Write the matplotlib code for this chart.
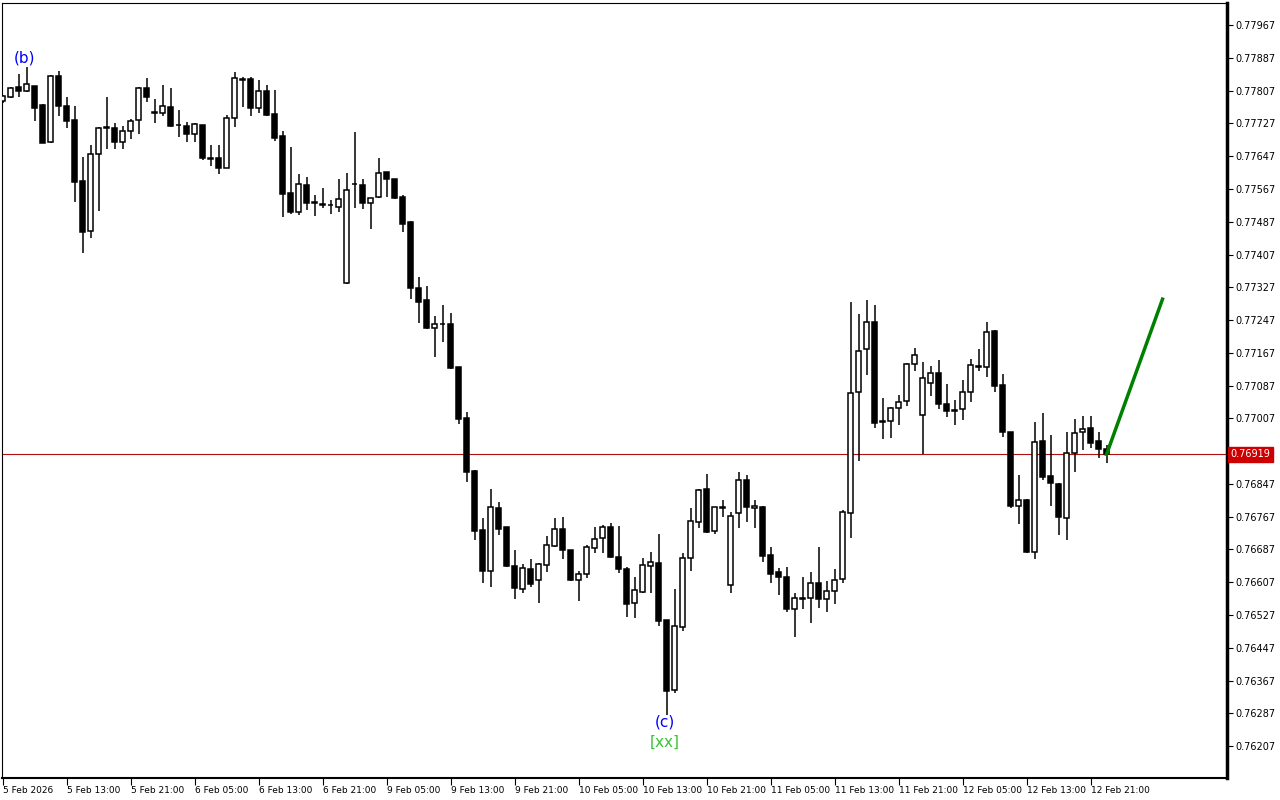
import numpy as np
import matplotlib
matplotlib.use("Agg")
import matplotlib.pyplot as plt
import matplotlib.transforms as mtransforms

# hourly candles, prices in points (1e-5)
opens = [77781, 77791, 77816, 77806, 77818, 77772, 77681, 77842, 77769, 77735,
         77586, 77464, 77652, 77718, 77716, 77681, 77708, 77735, 77813, 77755,
         77752, 77767, 77723, 77720, 77701, 77723, 77642, 77642, 77618, 77740,
         77835, 77835, 77764, 77806, 77750, 77696, 77557, 77510, 77576, 77535,
         77531, 77529, 77523, 77337, 77579, 77576, 77532, 77547, 77608, 77591,
         77547, 77486, 77325, 77296, 77227, 77238, 77237, 77132, 77008, 76878,
         76734, 76634, 76788, 76742, 76646, 76590, 76639, 76612, 76649, 76695,
         76737, 76685, 76612, 76627, 76690, 76715, 76742, 76668, 76639, 76556,
         76583, 76646, 76654, 76515, 76344, 76498, 76666, 76754, 76834, 76732,
         76790, 76600, 76776, 76856, 76788, 76790, 76673, 76632, 76620, 76541,
         76568, 76568, 76605, 76566, 76585, 76615, 76776, 77071, 77176, 77242,
         77000, 77000, 77032, 77049, 77140, 77015, 77093, 77118, 77042, 77027,
         77030, 77071, 77135, 77132, 77220, 77088, 76973, 76793, 76808, 76681,
         76952, 76866, 76847, 76764, 76922, 76973, 76983, 76952, 76932]
highs = [77796, 77816, 77847, 77864, 77818, 77774, 77845, 77855, 77791, 77769,
         77645, 77674, 77718, 77791, 77728, 77720, 77738, 77816, 77838, 77786,
         77821, 77813, 77760, 77730, 77728, 77723, 77674, 77674, 77747, 77852,
         77840, 77840, 77833, 77821, 77808, 77708, 77669, 77603, 77596, 77552,
         77569, 77540, 77591, 77606, 77706, 77591, 77546, 77642, 77608, 77591,
         77552, 77489, 77352, 77330, 77257, 77284, 77264, 77132, 77022, 76881,
         76764, 76834, 76803, 76742, 76685, 76651, 76663, 76654, 76720, 76764,
         76766, 76685, 76634, 76698, 76742, 76747, 76751, 76744, 76644, 76620,
         76666, 76681, 76725, 76515, 76590, 76678, 76788, 76834, 76871, 76790,
         76808, 76778, 76876, 76869, 76808, 76793, 76693, 76642, 76644, 76580,
         76620, 76632, 76693, 76610, 76639, 76783, 77291, 77262, 77296, 77284,
         77057, 77035, 77064, 77142, 77179, 77144, 77135, 77149, 77091, 77052,
         77100, 77152, 77176, 77242, 77222, 77115, 76973, 76869, 76810, 76998,
         77020, 76966, 76849, 76973, 77005, 77013, 77013, 76973, 76942]
lows = [77777, 77789, 77791, 77803, 77733, 77678, 77680, 77745, 77716, 77535,
        77410, 77447, 77513, 77664, 77664, 77664, 77689, 77701, 77779, 77728,
        77745, 77718, 77694, 77681, 77681, 77637, 77623, 77603, 77617, 77718,
        77767, 77745, 77752, 77745, 77684, 77498, 77506, 77503, 77515, 77501,
        77520, 77506, 77510, 77336, 77520, 77518, 77469, 77546, 77547, 77543,
        77462, 77298, 77240, 77225, 77157, 77193, 77127, 76993, 76851, 76710,
        76605, 76595, 76722, 76644, 76566, 76580, 76595, 76556, 76632, 76693,
        76663, 76610, 76561, 76617, 76678, 76678, 76666, 76629, 76522, 76519,
        76580, 76580, 76500, 76283, 76336, 76488, 76634, 76739, 76727, 76725,
        76766, 76580, 76739, 76754, 76739, 76656, 76605, 76576, 76534, 76473,
        76541, 76507, 76544, 76534, 76554, 76605, 76715, 76903, 77113, 76983,
        76956, 76959, 76991, 77037, 77122, 76920, 77061, 77030, 77010, 76991,
        77003, 77047, 77122, 77108, 77071, 76961, 76788, 76749, 76678, 76663,
        76856, 76793, 76722, 76710, 76876, 76930, 76934, 76910, 76898]
closes = [77794, 77813, 77806, 77823, 77764, 77679, 77842, 77769, 77733, 77584,
          77462, 77652, 77716, 77716, 77681, 77708, 77733, 77813, 77791, 77753,
          77769, 77720, 77722, 77701, 77725, 77642, 77641, 77618, 77740, 77838,
          77834, 77764, 77806, 77747, 77691, 77554, 77510, 77579, 77532, 77532,
          77529, 77528, 77542, 77564, 77578, 77532, 77545, 77606, 77591, 77545,
          77481, 77325, 77291, 77227, 77237, 77237, 77130, 77005, 76876, 76732,
          76634, 76790, 76737, 76646, 76593, 76642, 76602, 76651, 76698, 76737,
          76685, 76612, 76627, 76693, 76712, 76742, 76668, 76639, 76554, 76588,
          76649, 76656, 76512, 76341, 76500, 76666, 76756, 76832, 76729, 76790,
          76789, 76768, 76856, 76790, 76793, 76671, 76627, 76620, 76541, 76568,
          76567, 76605, 76566, 76585, 76612, 76778, 77069, 77171, 77242, 76996,
          76999, 77032, 77047, 77140, 77161, 77105, 77118, 77042, 77025, 77026,
          77071, 77137, 77133, 77218, 77086, 76973, 76793, 76808, 76681, 76949,
          76864, 76849, 76766, 76922, 76971, 76981, 76947, 76932, 76919]

time_labels = ["5 Feb 2026", "5 Feb 13:00", "5 Feb 21:00", "6 Feb 05:00", "6 Feb 13:00",
               "6 Feb 21:00", "9 Feb 05:00", "9 Feb 13:00", "9 Feb 21:00", "10 Feb 05:00",
               "10 Feb 13:00", "10 Feb 21:00", "11 Feb 05:00", "11 Feb 13:00", "11 Feb 21:00",
               "12 Feb 05:00", "12 Feb 13:00", "12 Feb 21:00"]

price_ticks = [0.76207, 0.76287, 0.76367, 0.76447, 0.76527, 0.76607, 0.76687, 0.76767,
               0.76847, 0.76927, 0.77007, 0.77087, 0.77167, 0.77247, 0.77327, 0.77407,
               0.77487, 0.77567, 0.77647, 0.77727, 0.77807, 0.77887, 0.77967]

current_price = 0.76919
# projection line (bar index, price)
proj_x = [138, 145]
proj_y = [0.76919, 0.77298]

o = np.array(opens) * 1e-5
h = np.array(highs) * 1e-5
l = np.array(lows) * 1e-5
c = np.array(closes) * 1e-5
idx = np.arange(len(o))

fig = plt.figure(figsize=(12.8, 8), dpi=100)
ax = fig.add_axes([2 / 1280, 22 / 800, 1225 / 1280, 775 / 800])

# wicks
ax.vlines(idx, l, h, color="black", linewidth=1.1, zorder=2)
# bodies
up = c >= o
body_bot = np.minimum(o, c)
body_h = np.abs(c - o)
ax.bar(idx[up], body_h[up], bottom=body_bot[up], width=0.62, color="white",
       edgecolor="black", linewidth=1.1, zorder=3)
ax.bar(idx[~up], body_h[~up], bottom=body_bot[~up], width=0.62, color="black",
       edgecolor="black", linewidth=1.1, zorder=3)

ax.axhline(current_price, color="#b01010", linewidth=0.8, zorder=1)
ax.plot(proj_x, proj_y, color="#008000", linewidth=2.5, zorder=4)

ax.text(2.8, 0.77886, "(b)", color="#0000ff", fontsize=11, ha="center", va="center")
ax.text(82.8, 0.76266, "(c)", color="#0000ff", fontsize=11, ha="center", va="center")
ax.text(82.8, 0.76217, "[xx]", color="#33c833", fontsize=11, ha="center", va="center")

ax.set_xlim(-0.0625, 153.06)
ax.set_ylim(0.76129, 0.78021)

ax.set_xticks(np.arange(0, 8 * len(time_labels), 8))
ax.set_xticklabels(time_labels, fontsize=6.5, ha="left")
ax.tick_params(axis="x", direction="out", length=5, width=0.8, pad=1)

# the 0.76927 label sits behind the current-price box, as in the terminal
ylabels = ["%.5f" % p for p in price_ticks]
ylabels[price_ticks.index(0.76927)] = ""
ax.yaxis.tick_right()
ax.set_yticks(price_ticks)
ax.set_yticklabels(ylabels, fontsize=7)
ax.tick_params(axis="y", direction="out", length=4, width=0.8, pad=2)

for side in ["top", "left"]:
    ax.spines[side].set_linewidth(0.8)
ax.spines["right"].set_linewidth(2.5)
ax.spines["bottom"].set_linewidth(1.5)

trans = mtransforms.blended_transform_factory(ax.transAxes, ax.transData)
ax.text(1.003, current_price, "%.5f" % current_price, transform=trans, color="white",
        fontsize=7, ha="left", va="center",
        bbox=dict(boxstyle="square,pad=0.25", facecolor="#cc0000", edgecolor="#cc0000"))

fig.savefig("out.png", dpi=100)
